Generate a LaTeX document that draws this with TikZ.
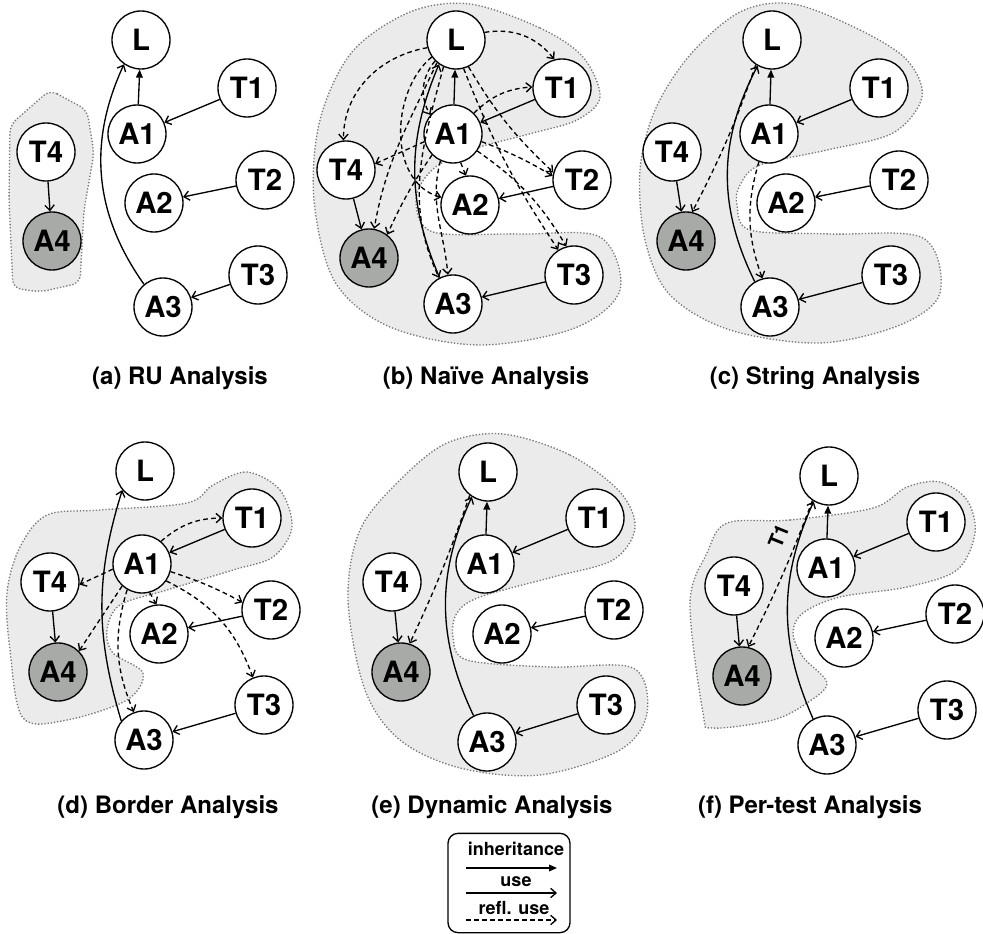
\documentclass[tikz,border=0pt]{standalone}
\usepackage{fontspec}
\setmainfont{TeX Gyre Heros}
\usetikzlibrary{arrows.meta}
\definecolor{regfill}{RGB}{235,235,235}
\definecolor{regline}{RGB}{120,120,120}
\definecolor{afill}{RGB}{168,170,168}
\begin{document}
\begin{tikzpicture}[x=0.75pt,y=-0.75pt,
  nd/.style={circle, draw, line width=1pt, fill=white, minimum size=43.5pt, inner sep=0pt, font=\fontsize{22}{22}\selectfont\bfseries},
  ndg/.style={nd, fill=afill},
  inh/.style={-{Triangle[length=6pt,width=5pt]}, line width=1pt},
  use/.style={-{Straight Barb[length=4pt,width=7pt]}, line width=1pt},
  refl/.style={use, dash pattern=on 3.5pt off 2.5pt},
  region/.style={fill=regfill, draw=regline, line width=1pt, dash pattern=on 1pt off 1.4pt},
  caption/.style={font=\fontsize{18}{18}\selectfont\bfseries},
  legtext/.style={font=\fontsize{13.5}{13.5}\selectfont\bfseries, inner sep=0pt}]
\useasboundingbox (0,0) rectangle (983,934);

% ---------------- regions ----------------
\path[region, rounded corners=6pt] (50,90) -- (87,110) -- (94,153) -- (84,210) -- (80,283) -- (40,292) -- (13,288) -- (9,200) -- (10,125) -- cycle;
\path[region] plot[smooth cycle, tension=0.55] coordinates {(470,4) (540,28) (583,57) (600,97) (577,120) (533,133) (470,150) (432,170) (416,200) (433,232) (520,234) (600,237) (620,290) (575,328) (480,345) (390,327) (335,282) (314,200) (320,120) (352,52) (410,12)};
\path[region] plot[smooth cycle, tension=0.55] coordinates {(793,4) (860,30) (907,60) (922,97) (893,133) (827,150) (760,165) (740,185) (737,205) (750,230) (830,234) (923,238) (940,293) (900,325) (820,343) (730,330) (670,295) (645,240) (640,170) (655,110) (690,55) (740,12)};
\path[region] plot[smooth cycle, tension=0.55] coordinates {(247,472) (280,490) (292,527) (273,557) (233,570) (167,590) (120,605) (107,630) (113,653) (143,673) (127,700) (67,720) (23,718) (10,650) (7,593) (20,547) (47,515) (100,510) (187,503) (213,485)};
\path[region] plot[smooth cycle, tension=0.55] coordinates {(503,434) (570,455) (620,492) (635,528) (613,560) (553,577) (480,597) (457,613) (453,637) (467,660) (550,667) (633,668) (647,713) (620,750) (540,775) (460,768) (400,740) (365,690) (348,600) (360,530) (400,480) (447,443)};
\path[region] plot[smooth cycle, tension=0.55] coordinates {(727,523) (790,520) (873,508) (907,487) (940,482) (967,500) (975,533) (957,570) (907,587) (840,597) (803,613) (793,633) (803,657) (827,683) (807,703) (773,720) (713,728) (703,713) (690,603) (707,553)};

% ---------------- (a) ----------------
\node[nd] (aL) at (141,40) {L};
\node[nd] (aT1) at (247,88) {T1};
\node[nd] (aA1) at (137,134) {A1};
\node[nd] (aT4) at (46,152) {T4};
\node[nd] (aT2) at (265,180) {T2};
\node[nd] (aA2) at (154,203) {A2};
\node[ndg] (aA4) at (52,241) {A4};
\node[nd] (aT3) at (258,275) {T3};
\node[nd] (aA3) at (163,307) {A3};
\draw[inh] (aA1) -- (aL);
\draw[use] (aT1) -- (aA1);
\draw[use] (aT2) -- (aA2);
\draw[use] (aT3) -- (aA3);
\draw[use] (aT4) -- (aA4);
\draw[use] (aA3.130) to[bend left=30] (aL.235);
\node[caption] (capa) at (180,378) {(a) RU Analysis};

% ---------------- (b) ----------------
\node[nd] (bL) at (456,40) {L};
\node[nd] (bT1) at (562,88) {T1};
\node[nd] (bA1) at (453,134) {A1};
\node[nd] (bT4) at (346,170) {T4};
\node[nd] (bT2) at (582,180) {T2};
\node[nd] (bA2) at (470,205) {A2};
\node[ndg] (bA4) at (369,258) {A4};
\node[nd] (bT3) at (574,275) {T3};
\node[nd] (bA3) at (453,304) {A3};
\draw[inh] (bA1) -- (bL);
\draw[use] (bT1) -- (bA1);
\draw[use] (bT2) -- (bA2);
\draw[use] (bT3) -- (bA3);
\draw[use] (bT4) -- (bA4);
\draw[use] (bA3.117) to[bend left=23] (bL.235);
% reflective uses from L
\draw[refl] (bL.15) to[bend left=30] (bT1.105);
\draw[refl] (bL.195) to[out=190,in=90] (bT4.95);
\draw[refl] (bL.225) to[bend right=35] (bA1.140);
\draw[refl] (bL.215) to[out=220,in=165] (bA2.165);
\draw[refl] (bL.230) to[out=245,in=80] (bA4.80);
\draw[refl] (bL.245) to[out=255,in=115] (bA3.118);
\draw[refl] (bL.-65) to[bend right=8] (bT2.165);
\draw[refl] (bL.-75) to[bend right=6] (bT3.122);
% reflective uses from A1
\draw[refl] (bA1.45) to[bend left=20] (bT1.178);
\draw[refl] (bA1.195) -- (bT4.12);
\draw[refl] (bA1.-75) -- (bA2.98);
\draw[refl] (bA1.-15) to[bend left=5] (bT2.172);
\draw[refl] (bA1.-35) to[bend left=12] (bT3.105);
\draw[refl] (bA1.245) to[out=255,in=95] (bA3.100);
\draw[refl] (bA1.225) to[bend right=5] (bA4.52);
\node[caption] (capb) at (486,378) {(b) Naïve Analysis};

% ---------------- (c) ----------------
\node[nd] (cL) at (772,40) {L};
\node[nd] (cT1) at (879,88) {T1};
\node[nd] (cA1) at (769,134) {A1};
\node[nd] (cT4) at (672,152) {T4};
\node[nd] (cT2) at (899,180) {T2};
\node[nd] (cA2) at (786,203) {A2};
\node[ndg] (cA4) at (686,241) {A4};
\node[nd] (cT3) at (891,275) {T3};
\node[nd] (cA3) at (770,307) {A3};
\draw[inh] (cA1) -- (cL);
\draw[use] (cT1) -- (cA1);
\draw[use] (cT2) -- (cA2);
\draw[use] (cT3) -- (cA3);
\draw[use] (cT4) -- (cA4);
\draw[use] (cA3.121) to[bend left=27] (cL.241);
\draw[refl] (cL.237) to[bend left=4] (cA4.78);
\draw[refl] (cA1.250) to[bend right=18] (cA3.105);
\node[caption] (capc) at (815,378) {(c) String Analysis};

% ---------------- (d) ----------------
\node[nd] (dL) at (145,471) {L};
\node[nd] (dT1) at (252,518) {T1};
\node[nd] (dA1) at (142,564) {A1};
\node[nd] (dT4) at (50,582) {T4};
\node[nd] (dT2) at (271,610) {T2};
\node[nd] (dA2) at (159,634) {A2};
\node[ndg] (dA4) at (58,672) {A4};
\node[nd] (dT3) at (264,705) {T3};
\node[nd] (dA3) at (144,740) {A3};
\draw[use] (dT1) -- (dA1);
\draw[use] (dT2) -- (dA2);
\draw[use] (dT3) -- (dA3);
\draw[use] (dT4) -- (dA4);
\draw[use] (dA3.140) to[bend left=17] (dL.220);
\draw[refl] (dA1.50) to[bend left=20] (dT1.180);
\draw[refl] (dA1.190) -- (dT4.-5);
\draw[refl] (dA1.-75) -- (dA2.95);
\draw[refl] (dA1.-15) to[bend left=5] (dT2.165);
\draw[refl] (dA1.-35) to[bend left=22] (dT3.112);
\draw[refl] (dA1.228) -- (dA4.45);
\draw[refl] (dA1.240) to[bend right=20] (dA3.110);
\node[caption] (capd) at (168,807) {(d) Border Analysis};

% ---------------- (e) ----------------
\node[nd] (eL) at (488,472) {L};
\node[nd] (eT1) at (595,518) {T1};
\node[nd] (eA1) at (485,564) {A1};
\node[nd] (eT4) at (392,582) {T4};
\node[nd] (eT2) at (614,610) {T2};
\node[nd] (eA2) at (502,634) {A2};
\node[ndg] (eA4) at (401,672) {A4};
\node[nd] (eT3) at (606,705) {T3};
\node[nd] (eA3) at (487,742) {A3};
\draw[inh] (eA1) -- (eL);
\draw[use] (eT1) -- (eA1);
\draw[use] (eT2) -- (eA2);
\draw[use] (eT3) -- (eA3);
\draw[use] (eT4) -- (eA4);
\draw[use] (eA3.117) to[bend left=25] (eL.237);
\draw[refl] (eL.232) to[bend left=3] (eA4.73);
\node[caption] (cape) at (492,807) {(e) Dynamic Analysis};

% ---------------- (f) ----------------
\node[nd] (fL) at (829,476) {L};
\node[nd] (fT1) at (936,522) {T1};
\node[nd] (fA1) at (826,568) {A1};
\node[nd] (fT4) at (734,586) {T4};
\node[nd] (fT2) at (955,614) {T2};
\node[nd] (fA2) at (844,638) {A2};
\node[ndg] (fA4) at (742,676) {A4};
\node[nd] (fT3) at (947,710) {T3};
\node[nd] (fA3) at (827,745) {A3};
\draw[inh] (fA1) -- (fL);
\draw[use] (fT1) -- (fA1);
\draw[use] (fT2) -- (fA2);
\draw[use] (fT3) -- (fA3);
\draw[use] (fT4) -- (fA4);
\draw[use] (fA3.118) to[bend left=24] (fL.239);
\draw[refl] (fL.236) to[bend left=3] node[pos=0.27, sloped, above=8pt, inner sep=0pt, font=\fontsize{15}{15}\selectfont\bfseries] {T1} (fA4.78);
\node[caption] (capf) at (810,807) {(f) Per-test Analysis};

% ---------------- legend ----------------
\node[draw, line width=1pt, rounded corners=7.5pt, minimum width=91.5pt, minimum height=74.5pt, inner sep=0pt] (leg) at (509,883) {};
\node[legtext] (lt1) at (516,849) {inheritance};
\node[legtext] (lt2) at (516,882) {use};
\node[legtext] (lt3) at (514,908) {refl. use};
\coordinate (l1s) at (466,868); \coordinate (l1e) at (557,868);
\coordinate (l2s) at (466,893); \coordinate (l2e) at (557,893);
\coordinate (l3s) at (466,920); \coordinate (l3e) at (557,920);
\draw[inh] (l1s) -- (l1e);
\draw[use] (l2s) -- (l2e);
\draw[refl] (l3s) -- (l3e);
\end{tikzpicture}
\end{document}
